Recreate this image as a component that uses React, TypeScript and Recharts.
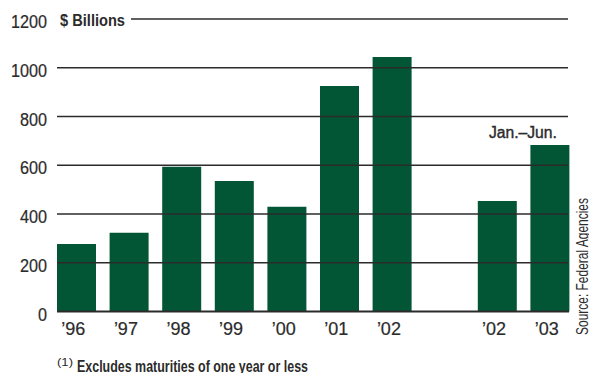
import React from 'react';
import { BarChart, Bar, XAxis, YAxis, ReferenceLine, LabelList } from 'recharts';

// Annual issuance, $ billions; the last two bars are Jan.–Jun. only
const slots = ['y96', 'y97', 'y98', 'y99', 'y00', 'y01', 'y02', 'gap', 'h02', 'h03'];
const yearLabels = ['’96', '’97', '’98', '’99', '’00', '’01', '’02', '', '’02', '’03'];
const issuance = [277, 323, 594, 535, 430, 925, 1044, null, 453, 683];
const yTicks = [0, 200, 400, 600, 800, 1000, 1200];

const data = slots.map((slot, i) => ({ slot, label: yearLabels[i], value: issuance[i] }));

const FONT = "'Liberation Sans', Arial, sans-serif";
const GREEN = '#035635';
const INK = '#2b2b2b';

// grid rules stop a little short of the category band edges
const GridRule = (props: any) => {
  const { x1, x2, y1 } = props;
  return <line x1={x1 + 7} x2={x2 - 8} y1={y1} y2={y1} stroke={INK} strokeWidth={1.5} />;
};

const TopRule = (props: any) => {
  const { x1, x2, y1 } = props;
  return (
    <g>
      <text x={x1 + 10} y={y1 + 7} fontFamily={FONT} fontSize={17} fontWeight="bold" fill={INK}
        textLength={65} lengthAdjust="spacingAndGlyphs">
        $ Billions
      </text>
      <line x1={x1 + 81} x2={x2 - 8} y1={y1} y2={y1} stroke={INK} strokeWidth={1.5} />
    </g>
  );
};

const BaseRule = (props: any) => {
  const { x1, x2, y1 } = props;
  return <line x1={x1 + 7} x2={x2 - 7} y1={y1} y2={y1} stroke={INK} strokeWidth={2} />;
};

const YTick = (props: any) => {
  const { x, y, payload } = props;
  const s = String(payload.value);
  return (
    <text x={x} y={y + 9} textAnchor="end" fontFamily={FONT} fontSize={17.5} fill={INK}
      stroke={INK} strokeWidth={0.2} textLength={s.length * 9} lengthAdjust="spacingAndGlyphs">
      {s}
    </text>
  );
};

const XTick = (props: any) => {
  const { x, y, index } = props;
  const s = yearLabels[index];
  if (!s) return null;
  return (
    <text x={x - 3} y={y + 23.5} textAnchor="middle" fontFamily={FONT} fontSize={18} fill={INK}
      stroke={INK} strokeWidth={0.2}>
      {s}
    </text>
  );
};

const PeriodNote = (props: any) => {
  const vb = props.viewBox ?? props;
  const isLast = props.index === slots.length - 1 || props.value === issuance[slots.length - 1];
  if (!isLast || vb.x == null) return null;
  return (
    <text x={vb.x + vb.width / 2 - 27} y={vb.y - 7} textAnchor="middle" fontFamily={FONT} fontSize={16} fill={INK}
      stroke={INK} strokeWidth={0.4} textLength={68} lengthAdjust="spacingAndGlyphs">
      Jan.–Jun.
    </text>
  );
};

export default function App() {
  return (
    <div style={{ position: 'absolute', left: 0, top: 0, width: 589, height: 373, overflow: 'hidden', background: '#fff' }}>
      <BarChart
        width={589}
        height={373}
        data={data}
        margin={{ top: 19, right: 13, left: 0, bottom: 31.5 }}
        barSize={39}
      >
        <XAxis
          dataKey="slot"
          axisLine={false}
          tickLine={false}
          tickSize={0}
          tickMargin={0}
          height={30}
          interval={0}
          tick={<XTick />}
        />
        <YAxis
          domain={[0, 1200]}
          ticks={yTicks}
          axisLine={false}
          tickLine={false}
          tickSize={0}
          tickMargin={3}
          width={50}
          tick={<YTick />}
        />
        {yTicks.slice(1, -1).map((t) => (
          <ReferenceLine key={t} y={t} shape={GridRule} />
        ))}
        <ReferenceLine y={1200} shape={TopRule} />
        <Bar dataKey="value" fill={GREEN} isAnimationActive={false}>
          <LabelList dataKey="value" content={PeriodNote} />
        </Bar>
        <ReferenceLine y={0} shape={BaseRule} />
      </BarChart>
      <svg width={589} height={373} style={{ position: 'absolute', left: 0, top: 0, pointerEvents: 'none' }}>
        <text x={57} y={366} fontFamily={FONT} fontSize={10} fill={INK} textLength={16} lengthAdjust="spacingAndGlyphs">
          (1)
        </text>
        <text x={77} y={372} fontFamily={FONT} fontSize={16.5} fontWeight="bold" fill={INK}
          textLength={231} lengthAdjust="spacingAndGlyphs">
          Excludes maturities of one year or less
        </text>
        <text x={0} y={0} transform="translate(588 335) rotate(-90)" fontFamily={FONT} fontSize={16} fill={INK}
          textLength={137} lengthAdjust="spacingAndGlyphs">
          Source: Federal Agencies
        </text>
      </svg>
    </div>
  );
}
